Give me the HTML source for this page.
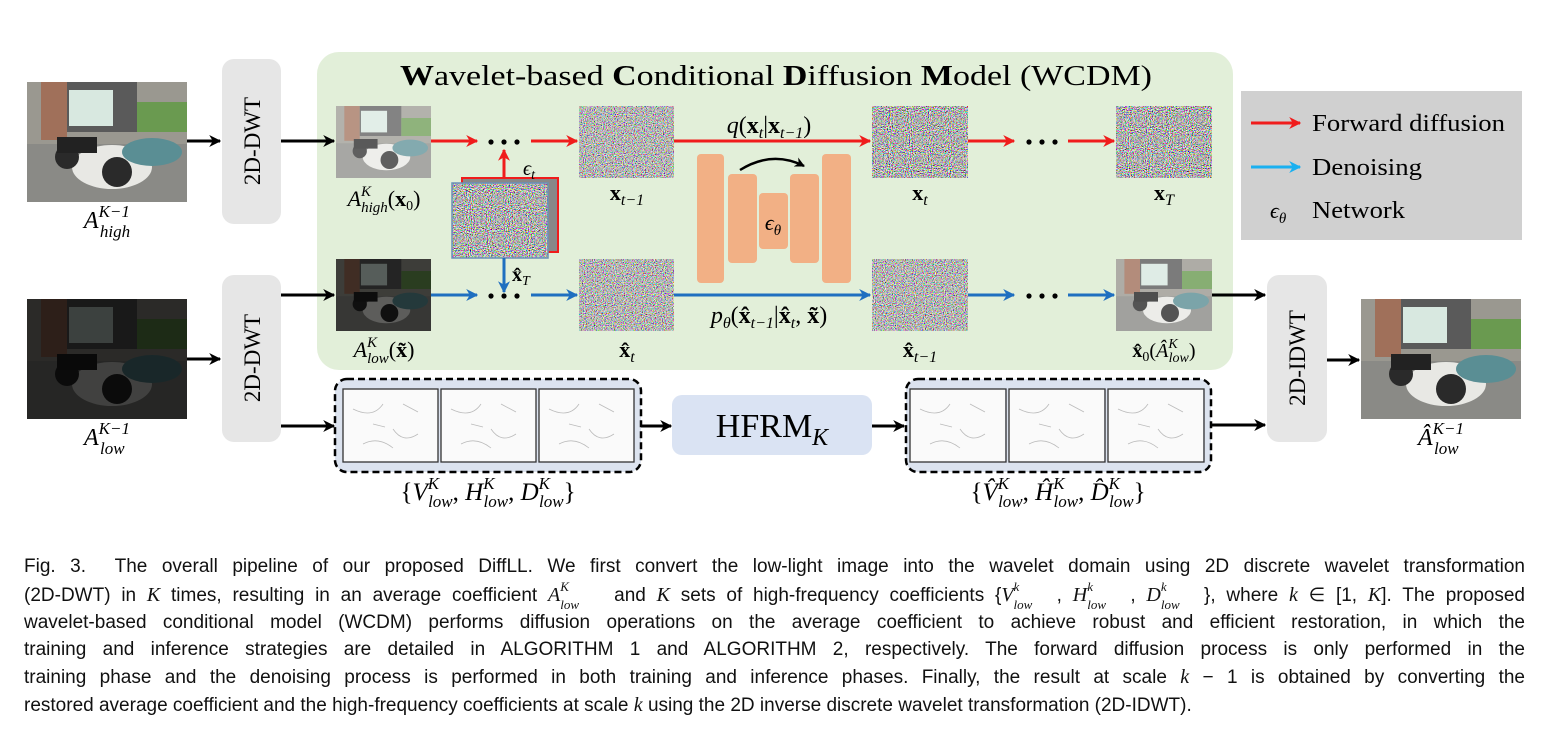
<!DOCTYPE html>
<html><head><meta charset="utf-8"><style>
html,body{margin:0;padding:0;background:#fff;}
#wrap{position:relative;width:1552px;height:734px;overflow:hidden;}
svg{position:absolute;left:0;top:0;}
.cap{position:absolute;left:24px;width:1501px;height:24px;font-family:"Liberation Sans",sans-serif;font-size:19px;color:#111;white-space:nowrap;text-align:justify;text-align-last:justify;line-height:24px;}
.cap i{font-family:"Liberation Serif",serif;font-size:20px;}
.cap .s{position:relative;display:inline-block;line-height:0;}
.cap .s b{position:absolute;left:100%;font-weight:normal;font-size:13px;font-style:italic;font-family:"Liberation Serif",serif;}
.cap .s b.u{top:-8px;}
.cap .s b.d{top:10px;}
.last{text-align-last:left;}
</style></head><body><div id="wrap">
<svg width="1552" height="734" viewBox="0 0 1552 734" xmlns="http://www.w3.org/2000/svg">
<defs>
<filter id="nz" x="0" y="0" width="100%" height="100%"><feTurbulence type="fractalNoise" baseFrequency="0.95" numOctaves="1" seed="3"/><feColorMatrix values="3.2 0 0 0 -1.1  0 3.2 0 0 -1.1  0 0 3.2 0 -1.1  0 0 0 0 1"/></filter>
<filter id="nz2" x="0" y="0" width="100%" height="100%"><feTurbulence type="fractalNoise" baseFrequency="0.9" numOctaves="1" seed="7"/><feColorMatrix values="2.6 0 0 0 -0.8  0 2.6 0 0 -0.8  0 0 2.6 0 -0.8  0 0 0 0 1"/></filter>
<marker id="ak" viewBox="0 0 10 10" refX="9" refY="5" markerWidth="4" markerHeight="4" orient="auto"><path d="M0,0 L10,5 L0,10 L3,5z" fill="#000"/></marker>
<marker id="ar" viewBox="0 0 10 10" refX="9" refY="5" markerWidth="4" markerHeight="4" orient="auto"><path d="M0,0 L10,5 L0,10 L3,5z" fill="#f01c1c"/></marker>
<marker id="ab" viewBox="0 0 10 10" refX="9" refY="5" markerWidth="4" markerHeight="4" orient="auto"><path d="M0,0 L10,5 L0,10 L3,5z" fill="#1f6fc0"/></marker>
<marker id="al" viewBox="0 0 10 10" refX="9" refY="5" markerWidth="4" markerHeight="4" orient="auto"><path d="M0,0 L10,5 L0,10 L3,5z" fill="#1ab0f0"/></marker>
<g id="scoot">
 <rect width="160" height="120" fill="#8a8a86"/>
 <rect width="160" height="62" fill="#9a9890"/>
 <rect x="14" y="0" width="26" height="58" fill="#a0705a"/>
 <rect x="40" y="0" width="70" height="50" fill="#5a5a5a"/>
 <rect x="42" y="8" width="44" height="36" fill="#d8e8e0"/>
 <rect x="110" y="20" width="50" height="30" fill="#6a9a50"/>
 <ellipse cx="85" cy="85" rx="40" ry="22" fill="#e8e8e4"/>
 <ellipse cx="125" cy="70" rx="30" ry="14" fill="#5a8e94"/>
 <circle cx="90" cy="90" r="15" fill="#2a2a2a"/>
 <circle cx="40" cy="75" r="12" fill="#2a2a2a"/>
 <rect x="30" y="55" width="40" height="16" fill="#222"/>
</g>
<g id="edge">
 <rect width="95" height="73" fill="#fafafa"/>
 <path d="M10,20 q20,10 30,-5 M50,40 q10,15 25,5 M20,55 q15,-8 30,4 M60,15 l15,8 M30,35 l12,3" stroke="#bbb" stroke-width="0.8" fill="none"/>
</g>
</defs>

<rect x="317" y="52" width="916" height="318" rx="22" fill="#e2efd9"/>
<text x="400" y="85" font-family="Liberation Serif,serif" font-size="28" textLength="752" lengthAdjust="spacingAndGlyphs"><tspan font-weight="bold">W</tspan>avelet-based <tspan font-weight="bold">C</tspan>onditional <tspan font-weight="bold">D</tspan>iffusion <tspan font-weight="bold">M</tspan>odel (WCDM)</text>

<use href="#scoot" x="27" y="82"/>
<g><use href="#scoot" x="27" y="299"/><rect x="27" y="299" width="160" height="120" fill="#000" opacity="0.72"/></g>
<text x="107" y="228" text-anchor="middle" font-family="Liberation Serif,serif" font-size="24" font-style="italic">A<tspan font-size="17" dy="-11">K−1</tspan><tspan font-size="17" dx="-30" dy="20">high</tspan></text>
<text x="107" y="445" text-anchor="middle" font-family="Liberation Serif,serif" font-size="24" font-style="italic">A<tspan font-size="17" dy="-11">K−1</tspan><tspan font-size="17" dx="-30" dy="20">low</tspan></text>

<rect x="222" y="59" width="59" height="165" rx="12" fill="#e6e6e6"/>
<rect x="222" y="275" width="59" height="167" rx="12" fill="#e6e6e6"/>
<rect x="1267" y="275" width="60" height="167" rx="12" fill="#e6e6e6"/>
<text transform="translate(260,141) rotate(-90)" text-anchor="middle" font-family="Liberation Serif,serif" font-size="23">2D-DWT</text>
<text transform="translate(260,358) rotate(-90)" text-anchor="middle" font-family="Liberation Serif,serif" font-size="23">2D-DWT</text>
<text transform="translate(1305,358) rotate(-90)" text-anchor="middle" font-family="Liberation Serif,serif" font-size="23">2D-IDWT</text>

<g stroke="#000" stroke-width="3" marker-end="url(#ak)">
<line x1="187" y1="141" x2="220" y2="141"/>
<line x1="187" y1="359" x2="220" y2="359"/>
<line x1="281" y1="141" x2="334" y2="141"/>
<line x1="281" y1="295" x2="334" y2="295"/>
<line x1="281" y1="426" x2="334" y2="426"/>
<line x1="641" y1="426" x2="671" y2="426"/>
<line x1="872" y1="426" x2="904" y2="426"/>
<line x1="1212" y1="295" x2="1265" y2="295"/>
<line x1="1211" y1="425" x2="1265" y2="425"/>
<line x1="1327" y1="360" x2="1359" y2="360"/>
</g>

<svg x="336" y="106" width="95" height="72" viewBox="0 0 160 120" preserveAspectRatio="none"><use href="#scoot"/><rect width="160" height="120" fill="#fff" opacity="0.25"/></svg>
<svg x="336" y="259" width="95" height="72" viewBox="0 0 160 120" preserveAspectRatio="none"><use href="#scoot"/><rect width="160" height="120" fill="#000" opacity="0.6"/></svg>
<svg x="1116" y="259" width="96" height="72" viewBox="0 0 160 120" preserveAspectRatio="none"><use href="#scoot"/><rect width="160" height="120" fill="#fff" opacity="0.2"/></svg>

<rect x="579" y="106" width="95" height="72" filter="url(#nz2)"/>
<rect x="579" y="259" width="95" height="72" filter="url(#nz2)"/>
<rect x="872" y="259" width="96" height="72" filter="url(#nz2)"/>
<rect x="872" y="106" width="96" height="72" filter="url(#nz)"/>
<rect x="1116" y="106" width="96" height="72" filter="url(#nz)"/>
<rect x="462" y="178" width="96" height="74" fill="#888" stroke="#f01c1c" stroke-width="2"/>
<rect x="452" y="183" width="96" height="75" filter="url(#nz)"/>
<rect x="452" y="183" width="96" height="75" fill="none" stroke="#6a90b8" stroke-width="1.5"/>

<g stroke="#f01c1c" stroke-width="3" marker-end="url(#ar)">
<line x1="431" y1="141" x2="477" y2="141"/>
<line x1="531" y1="141" x2="577" y2="141"/>
<line x1="674" y1="141" x2="870" y2="141"/>
<line x1="968" y1="141" x2="1014" y2="141"/>
<line x1="1068" y1="141" x2="1114" y2="141"/>
<line x1="504" y1="178" x2="504" y2="150"/>
</g>
<g stroke="#1f6fc0" stroke-width="3" marker-end="url(#ab)">
<line x1="431" y1="295" x2="477" y2="295"/>
<line x1="531" y1="295" x2="577" y2="295"/>
<line x1="674" y1="295" x2="870" y2="295"/>
<line x1="968" y1="295" x2="1014" y2="295"/>
<line x1="1068" y1="295" x2="1114" y2="295"/>
<line x1="504" y1="258" x2="504" y2="292"/>
</g>
<g fill="#000">
<circle cx="491" cy="142" r="2.6"/><circle cx="504" cy="142" r="2.6"/><circle cx="517" cy="142" r="2.6"/>
<circle cx="491" cy="296" r="2.6"/><circle cx="504" cy="296" r="2.6"/><circle cx="517" cy="296" r="2.6"/>
<circle cx="1029" cy="142" r="2.6"/><circle cx="1042" cy="142" r="2.6"/><circle cx="1055" cy="142" r="2.6"/>
<circle cx="1029" cy="296" r="2.6"/><circle cx="1042" cy="296" r="2.6"/><circle cx="1055" cy="296" r="2.6"/>
</g>

<g fill="#f2b085">
<rect x="697" y="154" width="27" height="129" rx="4"/>
<rect x="728" y="174" width="29" height="89" rx="4"/>
<rect x="759" y="193" width="29" height="56" rx="4"/>
<rect x="790" y="174" width="29" height="89" rx="4"/>
<rect x="822" y="154" width="29" height="129" rx="4"/>
</g>
<path d="M740,170 Q772,150 804,166" stroke="#000" stroke-width="2.5" fill="none" marker-end="url(#ak)"/>

<g font-family="Liberation Serif,serif" font-size="22">
<text x="523" y="175" font-style="italic" font-size="20">ϵ<tspan font-size="14" dy="4">t</tspan></text>
<text x="512" y="281" font-weight="bold" font-size="20">x̂<tspan font-size="14" dy="4" font-style="italic" font-weight="normal">T</tspan></text>
<text x="773" y="230" text-anchor="middle" font-style="italic">ϵ<tspan font-size="15" dy="5">θ</tspan></text>
<text x="384" y="206" text-anchor="middle" font-style="italic">A<tspan font-size="15" dy="-10">K</tspan><tspan font-size="15" dx="-10" dy="16">high</tspan><tspan dy="-6" font-style="normal">(<tspan font-weight="bold">x</tspan><tspan font-size="14" dy="4">0</tspan><tspan dy="-4">)</tspan></tspan></text>
<text x="384" y="357" text-anchor="middle" font-style="italic">A<tspan font-size="15" dy="-10">K</tspan><tspan font-size="15" dx="-10" dy="16">low</tspan><tspan dy="-6" font-style="normal">(<tspan font-weight="bold">x̃</tspan>)</tspan></text>
<text x="627" y="200" text-anchor="middle" font-weight="bold">x<tspan font-size="16" dy="5" font-style="italic" font-weight="normal">t−1</tspan></text>
<text x="627" y="357" text-anchor="middle" font-weight="bold">x̂<tspan font-size="16" dy="5" font-style="italic" font-weight="normal">t</tspan></text>
<text x="920" y="200" text-anchor="middle" font-weight="bold">x<tspan font-size="16" dy="5" font-style="italic" font-weight="normal">t</tspan></text>
<text x="1164" y="200" text-anchor="middle" font-weight="bold">x<tspan font-size="16" dy="5" font-style="italic" font-weight="normal">T</tspan></text>
<text x="920" y="357" text-anchor="middle" font-weight="bold">x̂<tspan font-size="16" dy="5" font-style="italic" font-weight="normal">t−1</tspan></text>
<text x="1164" y="357" text-anchor="middle" font-size="20"><tspan font-weight="bold">x̂</tspan><tspan font-size="14" dy="4">0</tspan><tspan dy="-4">(</tspan><tspan font-style="italic">Â</tspan><tspan font-size="14" dy="-9" font-style="italic">K</tspan><tspan font-size="14" dx="-9" dy="14" font-style="italic">low</tspan><tspan dy="-5">)</tspan></text>
<text x="769" y="133" text-anchor="middle" font-size="24"><tspan font-style="italic">q</tspan>(<tspan font-weight="bold">x</tspan><tspan font-size="16" dy="5" font-style="italic">t</tspan><tspan dy="-5">|</tspan><tspan font-weight="bold">x</tspan><tspan font-size="16" dy="5" font-style="italic">t−1</tspan><tspan dy="-5">)</tspan></text>
<text x="769" y="323" text-anchor="middle" font-size="24"><tspan font-style="italic">p</tspan><tspan font-size="16" dy="5" font-style="italic">θ</tspan><tspan dy="-5">(</tspan><tspan font-weight="bold">x̂</tspan><tspan font-size="16" dy="5" font-style="italic">t−1</tspan><tspan dy="-5">|</tspan><tspan font-weight="bold">x̂</tspan><tspan font-size="16" dy="5" font-style="italic">t</tspan><tspan dy="-5">, </tspan><tspan font-weight="bold">x̃</tspan>)</text>
</g>

<rect x="1241" y="91" width="281" height="149" fill="#d0d0d0"/>
<line x1="1251" y1="123" x2="1300" y2="123" stroke="#f01c1c" stroke-width="3" marker-end="url(#ar)"/>
<line x1="1251" y1="167" x2="1300" y2="167" stroke="#1ab0f0" stroke-width="3" marker-end="url(#al)"/>
<g font-family="Liberation Serif,serif" font-size="24">
<text x="1312" y="131" textLength="193" lengthAdjust="spacingAndGlyphs">Forward diffusion</text>
<text x="1312" y="175" textLength="110" lengthAdjust="spacingAndGlyphs">Denoising</text>
<text x="1312" y="218" textLength="93" lengthAdjust="spacingAndGlyphs">Network</text>
<text x="1270" y="218" font-style="italic" font-size="22">ϵ<tspan font-size="15" dy="5">θ</tspan></text>
</g>

<use href="#scoot" x="1361" y="299"/>
<text x="1441" y="445" text-anchor="middle" font-family="Liberation Serif,serif" font-size="24" font-style="italic">Â<tspan font-size="17" dy="-11">K−1</tspan><tspan font-size="17" dx="-30" dy="20">low</tspan></text>

<rect x="335" y="379" width="306" height="93" rx="12" fill="#dce3ef" stroke="#000" stroke-width="2.5" stroke-dasharray="7,4"/>
<rect x="906" y="379" width="305" height="93" rx="12" fill="#dce3ef" stroke="#000" stroke-width="2.5" stroke-dasharray="7,4"/>
<g>
<use href="#edge" x="343" y="389"/><use href="#edge" x="441" y="389"/><use href="#edge" x="539" y="389"/>
<use href="#edge" x="910" y="389"/><use href="#edge" x="1009" y="389"/><use href="#edge" x="1108" y="389"/>
</g>
<g fill="none" stroke="#333" stroke-width="1.3">
<rect x="343" y="389" width="95" height="73"/><rect x="441" y="389" width="95" height="73"/><rect x="539" y="389" width="95" height="73"/>
<rect x="910" y="389" width="96" height="73"/><rect x="1009" y="389" width="96" height="73"/><rect x="1108" y="389" width="96" height="73"/>
</g>
<rect x="672" y="395" width="200" height="60" rx="10" fill="#dae3f3"/>
<text x="772" y="437" text-anchor="middle" font-family="Liberation Serif,serif" font-size="34">HFRM<tspan font-size="24" dy="8" font-style="italic">K</tspan></text>

<g font-family="Liberation Serif,serif" font-size="25">
<text x="488" y="500" text-anchor="middle">{<tspan font-style="italic">V</tspan><tspan font-size="17" dy="-11" font-style="italic">K</tspan><tspan font-size="17" dx="-11" dy="18" font-style="italic">low</tspan><tspan dy="-7">, </tspan><tspan font-style="italic">H</tspan><tspan font-size="17" dy="-11" font-style="italic">K</tspan><tspan font-size="17" dx="-11" dy="18" font-style="italic">low</tspan><tspan dy="-7">, </tspan><tspan font-style="italic">D</tspan><tspan font-size="17" dy="-11" font-style="italic">K</tspan><tspan font-size="17" dx="-11" dy="18" font-style="italic">low</tspan><tspan dy="-7">}</tspan></text>
<text x="1058" y="500" text-anchor="middle">{<tspan font-style="italic">V̂</tspan><tspan font-size="17" dy="-11" font-style="italic">K</tspan><tspan font-size="17" dx="-11" dy="18" font-style="italic">low</tspan><tspan dy="-7">, </tspan><tspan font-style="italic">Ĥ</tspan><tspan font-size="17" dy="-11" font-style="italic">K</tspan><tspan font-size="17" dx="-11" dy="18" font-style="italic">low</tspan><tspan dy="-7">, </tspan><tspan font-style="italic">D̂</tspan><tspan font-size="17" dy="-11" font-style="italic">K</tspan><tspan font-size="17" dx="-11" dy="18" font-style="italic">low</tspan><tspan dy="-7">}</tspan></text>
</g>
</svg>

<div class="cap" style="top:555px">Fig. 3.&nbsp; The overall pipeline of our proposed DiffLL. We first convert the low-light image into the wavelet domain using 2D discrete wavelet transformation</div>
<div class="cap" style="top:583px">(2D-DWT) in <i>K</i> times, resulting in an average coefficient <span class="s"><i>A</i><b class="u">K</b><b class="d">low</b></span>&nbsp;&nbsp;&nbsp;&nbsp; and <i>K</i> sets of high-frequency coefficients {<span class="s"><i>V</i><b class="u">k</b><b class="d">low</b></span>&nbsp;&nbsp;&nbsp;&nbsp;, <span class="s"><i>H</i><b class="u">k</b><b class="d">low</b></span>&nbsp;&nbsp;&nbsp;&nbsp;, <span class="s"><i>D</i><b class="u">k</b><b class="d">low</b></span>&nbsp;&nbsp;&nbsp;&nbsp;}, where <i>k</i> ∈ [1, <i>K</i>]. The proposed</div>
<div class="cap" style="top:611px">wavelet-based conditional model (WCDM) performs diffusion operations on the average coefficient to achieve robust and efficient restoration, in which the</div>
<div class="cap" style="top:638px">training and inference strategies are detailed in ALGORITHM 1 and ALGORITHM 2, respectively. The forward diffusion process is only performed in the</div>
<div class="cap" style="top:665px">training phase and the denoising process is performed in both training and inference phases. Finally, the result at scale <i>k</i> − 1 is obtained by converting the</div>
<div class="cap last" style="top:693px">restored average coefficient and the high-frequency coefficients at scale <i>k</i> using the 2D inverse discrete wavelet transformation (2D-IDWT).</div>
</div></body></html>
